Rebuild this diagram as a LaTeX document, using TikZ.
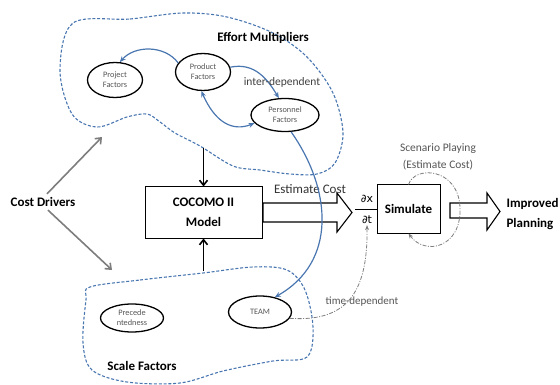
\documentclass[tikz,border=0pt]{standalone}
\usepackage{fontspec}
\setmainfont{Carlito}
\newfontfamily\dejavu{DejaVu Sans}
\usetikzlibrary{shapes.geometric,arrows.meta}
\definecolor{bl}{RGB}{74,118,176}
\definecolor{tg}{RGB}{85,85,85}
\definecolor{ag}{RGB}{125,125,125}
\begin{document}
\begin{tikzpicture}[x=1pt,y=-1pt,
 ell/.style={ellipse,draw=black,line width=1.3pt,inner sep=0pt,align=center,font=\fontsize{8.3}{10}\selectfont,text=tg},
 box/.style={draw,line width=1pt,align=center,font=\bfseries\fontsize{13}{20}\selectfont},
 blob/.style={draw=bl,dash pattern=on 3pt off 1.8pt,line width=1.1pt},
 barrow/.style={draw=bl,line width=1.2pt,-{Stealth[length=6pt,width=5pt]}},
 bdarrow/.style={draw=bl,line width=1.2pt,{Stealth[length=6pt,width=5pt]}-{Stealth[length=6pt,width=5pt]}},
 karrow/.style={draw=black,line width=1.6pt,-{Straight Barb[length=5pt,width=8pt]}},
 garrow/.style={draw=ag,line width=1.6pt,-{Straight Barb[length=5pt,width=8pt]}},
 dd/.style={draw=ag,line width=0.8pt,dash pattern=on 4pt off 1.5pt on 1pt off 1.5pt,-{Stealth[length=5pt,width=4pt]}},
 hollow/.style={draw=black,line width=1.1pt,fill=white},
 btitle/.style={font=\bfseries\fontsize{13}{20}\selectfont},
 lab/.style={font=\fontsize{11.5}{17}\selectfont,text=tg,align=center}
]
\useasboundingbox (0,0) rectangle (560,385);
% blobs
\draw[blob] plot[smooth cycle,tension=0.55] coordinates {(73,23) (130,19) (183,13) (227,17) (273,33) (307,57) (333,93) (343,133) (335,163) (317,174) (290,174) (260,170) (233,166) (200,146) (175,133) (160,122) (147,114) (127,117) (97,127) (72,114) (60,70)};
\draw[blob] plot[smooth cycle,tension=0.55] coordinates {(90,287) (140,280) (203,273) (253,267) (287,270) (305,290) (313,327) (307,357) (273,361) (223,371) (180,383) (127,382) (92,370) (83,343) (86,300)};
% titles
\node[btitle] (em) at (263,38) {Effort Multipliers};
\node[btitle] (sf) at (142,366) {Scale Factors};
\node[btitle] (cd) at (43,202) {Cost Drivers};
% ellipses
\node[ell,minimum width=55pt,minimum height=35pt] (proj) at (115,80) {Project\\Factors};
\node[ell,minimum width=55pt,minimum height=37pt] (prod) at (203,72) {Product\\Factors};
\node[ell,minimum width=68pt,minimum height=33pt] (pers) at (285,115) {Personnel\\Factors};
\node[ell,minimum width=63pt,minimum height=28pt] (prec) at (132,318) {Precede\\ntedness};
\node[ell,minimum width=63pt,minimum height=32pt] (team) at (260,312) {TEAM};
% boxes
\node[box,minimum width=117pt,minimum height=51pt] (coc) at (203.5,212.5) {COCOMO II\\Model};
\node[box,minimum width=63pt,minimum height=48pt] (sim) at (408.5,209) {Simulate};
% estimate cost arrow
\draw[hollow] (263,203) -- (337,203) -- (337,193) -- (352,212.5) -- (337,232) -- (337,222) -- (263,222) -- cycle;
\node[font=\fontsize{13}{16}\selectfont,text=black!80] (ec) at (310,189) {Estimate Cost};
% blue connectors
\draw[barrow] (prod.160) .. controls (165,45) and (135,45) .. (proj.75);
\draw[barrow] (prod.10) .. controls (255,62) and (268,80) .. (pers.110);
\draw[bdarrow] (prod.265) .. controls (215,122) and (232,132) .. (pers.195);
\draw[barrow] (pers.290) .. controls (332,190) and (337,262) .. (team.45);
\node[lab,text=black!75] (inter) at (282,82) {inter-dependent};
% cost driver arrows
\coordinate (emin) at (102,137);
\coordinate (sfin) at (112,270);
\draw[garrow] ([xshift=4pt]cd.north) -- (emin);
\draw[garrow] ([xshift=5pt]cd.south) -- (sfin);
% black arrows into COCOMO
\coordinate (emout) at (203.5,148);
\coordinate (sfout) at (203.5,271);
\draw[karrow] (emout) -- (coc.north);
\draw[karrow] (sfout) -- (coc.south);
% derivative
\node[font=\dejavu\fontsize{11}{12}\selectfont,inner sep=1pt] (dx) at (367,199) {∂x};
\node[font=\dejavu\fontsize{11}{12}\selectfont,inner sep=1pt] (dt) at (367,220) {∂t};
\coordinate (fl) at (355,209);
\draw[line width=0.6pt] (fl) -- (sim.west);
% improved planning arrow
\draw[hollow] (450,203) -- (487,203) -- (487,193) -- (500,211.5) -- (487,230) -- (487,218) -- (450,218) -- cycle;
\node[btitle,align=left,anchor=west] (ip) at (503,214) {Improved\\Planning};
% scenario loop
\node[lab] (sp) at (438,157) {Scenario Playing\\(Estimate Cost)};
\draw[dd] (sim.north) .. controls (415,165) and (458,168) .. (460,207) .. controls (462,248) and (425,256) .. (sim.south);
% time-dependent
\node[lab,font=\fontsize{11}{14}\selectfont] (td) at (362,302) {time-dependent};
\draw[dd] (team.-12) .. controls (345,322) and (368,295) .. (dt.south);
\end{tikzpicture}
\end{document}
